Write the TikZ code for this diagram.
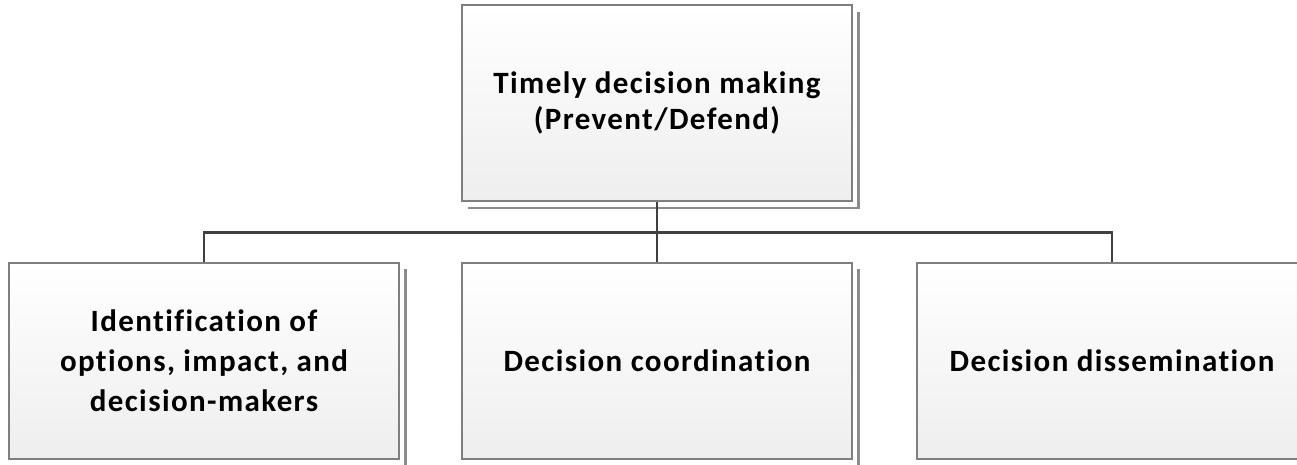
\documentclass[tikz,border=0pt]{standalone}
\usepackage{fontspec}
\setmainfont{Carlito}[Ligatures=NoCommon, LetterSpace=4.5]
\definecolor{boxline}{HTML}{7F7F7F}
\definecolor{shadowline}{HTML}{8C8C8C}
\definecolor{linkline}{HTML}{404040}
\definecolor{fillbottom}{HTML}{EEEEEE}
\tikzset{
  orgbox/.style={draw=boxline, line width=1.2pt, top color=white, bottom color=fillbottom,
    minimum width=390pt, minimum height=196pt, inner sep=0pt, align=center,
    font=\fontsize{31}{36.5}\selectfont\bfseries},
  offsetline/.style={draw=shadowline, line width=2.6pt},
  link/.style={draw=linkline, line width=2.6pt}
}
\begin{document}
\begin{tikzpicture}[x=1pt, y=-1pt]
\useasboundingbox (0,0) rectangle (1297,464);
\begin{scope}
\clip (0,0) rectangle (1297,464);
% offset outlines behind the boxes
\draw[offsetline] (858.5,12) -- (858.5,208) -- (468,208);
\draw[offsetline] (405.5,269) -- (405.5,480);
\draw[offsetline] (858.5,269) -- (858.5,480);
% boxes
\node[orgbox] (top) at (657,103) {Timely decision making\\(Prevent/Defend)};
\node[orgbox, font=\fontsize{31}{40}\selectfont\bfseries] (c1) at (204,361) {Identification of\\options, impact, and\\decision-makers};
\node[orgbox] (c2) at (657,361) {Decision coordination};
\node[orgbox] (c3) at (1112,361) {Decision dissemination};
% connectors
\coordinate (bus) at (657,232.5);
\draw[link] (top.south) -- (bus);
\draw[link] (c1.north) |- (bus) -| (c3.north);
\draw[link] (bus) -- (c2.north);
\end{scope}
\end{tikzpicture}
\end{document}
